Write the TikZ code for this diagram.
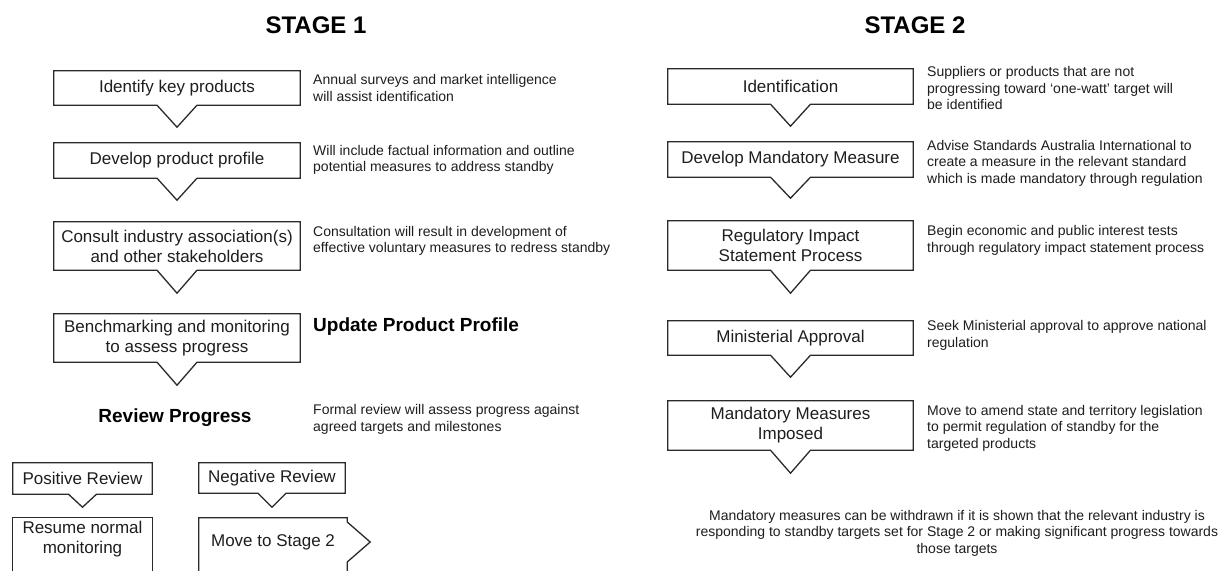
\documentclass[tikz,border=0pt]{standalone}
\usepackage{fontspec}
\setmainfont{Liberation Sans}
\usetikzlibrary{calc}
\definecolor{ink}{HTML}{1E1E1E}
\definecolor{edge}{HTML}{2A2A2A}
\tikzset{
  boxtxt/.style={inner sep=0pt, align=center, text=ink, font=\fontsize{17}{20}\selectfont},
  note/.style={inner sep=0pt, align=left, anchor=west, text=ink, font=\fontsize{14}{16.5}\selectfont},
  cnote/.style={inner sep=0pt, align=center, text=ink, font=\fontsize{14}{16.5}\selectfont},
  head/.style={inner sep=0pt, text=black, font=\bfseries\fontsize{24}{28}\selectfont},
  sub/.style={inner sep=0pt, text=black, font=\bfseries\fontsize{19}{22}\selectfont},
  outl/.style={draw=edge, line width=1.3pt, line join=miter}
}
\newcommand\notchdown[3]{\draw[outl] (#1.north west) -- (#1.north east) -- (#1.south east) -- ([xshift=#2pt]#1.south) -- ([yshift=-#3pt]#1.south) -- ([xshift=-#2pt]#1.south) -- (#1.south west) -- cycle;}
\begin{document}
\begin{tikzpicture}[x=1pt,y=-1pt]
\useasboundingbox (0,0) rectangle (1225,570);
\clip (0,0) rectangle (1225,570);
\fill[white] (0,0) rectangle (1225,570);

% headers
\node[head] (h1) at (316,25) {STAGE 1};
\node[head] (h2) at (915,25) {STAGE 2};

% ---------- Stage 1 ----------
\node[boxtxt, minimum width=246pt, minimum height=34pt] (b1) at (177,88) {Identify key products};
\node[boxtxt, minimum width=246pt, minimum height=35pt] (b2) at (177,160.5) {Develop product profile};
\node[boxtxt, minimum width=246pt, minimum height=48pt] (b3) at (177,246) {Consult industry association(s)\\and other stakeholders};
\node[boxtxt, minimum width=246pt, minimum height=48pt] (b4) at (177,338) {Benchmarking and monitoring\\to assess progress};
\notchdown{b1}{20}{22}
\notchdown{b2}{20}{22}
\notchdown{b3}{20}{23}
\notchdown{b4}{20}{23}

\node[note] (a1) at (313,88) {Annual surveys and market intelligence\\will assist identification};
\node[note] (a2) at (313,160) {Will include factual information and outline\\potential measures to address standby};
\node[note] (a3) at (313,241) {Consultation will result in development of\\effective voluntary measures to redress standby};
\node[sub, anchor=west] (upd) at (313,327) {Update Product Profile};

\node[sub] (rev) at (175,418) {Review Progress};
\node[note] (a4) at (313,419.5) {Formal review will assess progress against\\agreed targets and milestones};

\node[boxtxt, minimum width=139pt, minimum height=31pt] (pos) at (82.5,478.5) {Positive Review};
\node[boxtxt, minimum width=146pt, minimum height=30pt] (neg) at (272,478) {Negative Review};
\notchdown{pos}{14}{13}
\notchdown{neg}{14}{14}

\node[boxtxt, minimum width=139pt, minimum height=42pt] (res) at (82.5,539) {Resume normal\\monitoring};
\draw[outl] (res.west |- 0,600) -- (res.north west) -- (res.north east) -- (res.east |- 0,600);

\node[boxtxt, minimum width=148pt, minimum height=48pt] (mov) at (273,542) {Move to Stage 2};
\draw[outl] (mov.west |- 0,600) -- (mov.north west) -- (mov.north east) -- ([yshift=20pt]mov.east) -- ([xshift=23pt]mov.east) -- ([yshift=-20pt]mov.east) -- (mov.east |- 0,600);

% ---------- Stage 2 ----------
\node[boxtxt, minimum width=245pt, minimum height=35pt] (s1) at (790.5,86.5) {Identification};
\node[boxtxt, minimum width=245pt, minimum height=35pt] (s2) at (790.5,159.5) {Develop Mandatory Measure};
\node[boxtxt, minimum width=245pt, minimum height=49pt] (s3) at (790.5,245.5) {Regulatory Impact\\Statement Process};
\node[boxtxt, minimum width=245pt, minimum height=34pt] (s4) at (790.5,338) {Ministerial Approval};
\node[boxtxt, minimum width=245pt, minimum height=49pt] (s5) at (790.5,425.5) {Mandatory Measures\\Imposed};
\notchdown{s1}{20}{22}
\notchdown{s2}{20}{21}
\notchdown{s3}{20}{23}
\notchdown{s4}{20}{22}
\notchdown{s5}{20}{23}

\node[note] (t1) at (927,88) {Suppliers or products that are not\\progressing toward `one-watt' target will\\be identified};
\node[note] (t2) at (927,163) {Advise Standards Australia International to\\create a measure in the relevant standard\\which is made mandatory through regulation};
\node[note] (t3) at (927,240.5) {Begin economic and public interest tests\\through regulatory impact statement process};
\node[note] (t4) at (927,335.5) {Seek Ministerial approval to approve national\\regulation};
\node[note] (t5) at (927,428) {Move to amend state and territory legislation\\to permit regulation of standby for the\\targeted products};
\node[cnote] (t6) at (957,533) {Mandatory measures can be withdrawn if it is shown that the relevant industry is\\responding to standby targets set for Stage 2 or making significant progress towards\\those targets};
\end{tikzpicture}
\end{document}
